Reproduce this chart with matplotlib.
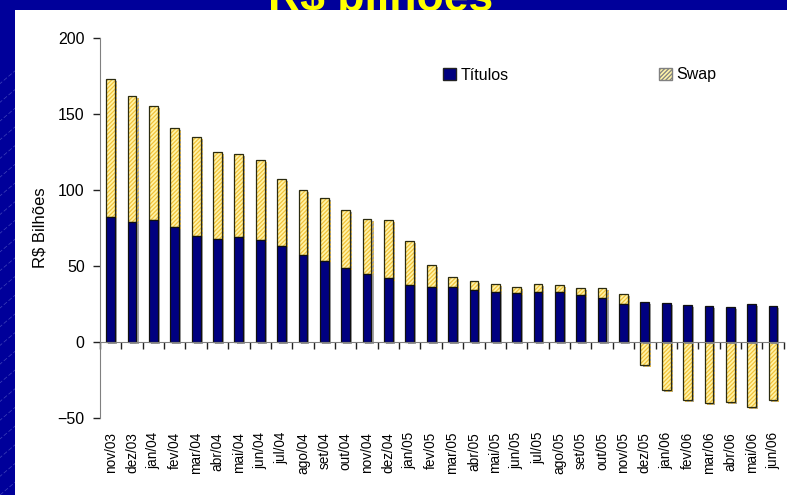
import numpy as np
import matplotlib
matplotlib.use("Agg")
import matplotlib.pyplot as plt
from matplotlib.patches import Rectangle, Patch
from matplotlib.lines import Line2D
import matplotlib.patheffects as pe

plt.rcParams['font.family'] = ['Liberation Sans', 'DejaVu Sans']
plt.rcParams['hatch.linewidth'] = 0.9

categories = ["nov/03", "dez/03", "jan/04", "fev/04", "mar/04", "abr/04", "mai/04", "jun/04",
              "jul/04", "ago/04", "set/04", "out/04", "nov/04", "dez/04", "jan/05", "fev/05",
              "mar/05", "abr/05", "mai/05", "jun/05", "jul/05", "ago/05", "set/05", "out/05",
              "nov/05", "dez/05", "jan/06", "fev/06", "mar/06", "abr/06", "mai/06", "jun/06"]
titulos = [82, 78.7, 80, 75.5, 70, 68, 69.3, 67.3, 63.4, 57.5, 53.5, 49, 45, 41.8, 37.3, 36,
           36.4, 34.2, 32.9, 32.2, 32.9, 32.9, 30.9, 28.7, 24.8, 26.3, 25.4, 24.1, 23.5, 22.8, 24.8, 23.5]
swap = [91, 83.3, 75, 65.5, 64.7, 57, 54.7, 52.7, 43.6, 42.3, 41, 38, 36, 38.2, 29.3, 14.7,
        6.1, 5.7, 5.0, 4.2, 5.0, 4.4, 4.4, 6.6, 6.6, -15.4, -31.4, -38, -39.9, -39.3, -42.5, -38]
yticks = [-50, 0, 50, 100, 150, 200]

W, H = 787, 495
fig = plt.figure(figsize=(W / 100, H / 100), dpi=100)
fig.patch.set_facecolor('#00009A')

# diagonal light lines in background
for k in range(-40, 60):
    x0 = k * 22.0
    fig.add_artist(Line2D([x0 / W, (x0 + 500) / W], [0, 500 * 0.85 / H],
                          transform=fig.transFigure, color='#8088D8', lw=0.5,
                          alpha=0.5, dashes=(6, 3), zorder=0))

# title (partly hidden by white panel)
fig.text(381 / W, 1 - 11 / H, 'R$ bilhões', ha='center', va='baseline', fontsize=32,
         fontweight='bold', color='#FFFF00', zorder=1)
# white panel
fig.add_artist(Rectangle((15 / W, 0), 1, 1 - 10 / H, transform=fig.transFigure,
                         facecolor='white', edgecolor='none', zorder=2))

ax = fig.add_axes([100 / W, 1 - 418 / H, 683.7 / W, 380 / H], zorder=3)
ax.set_facecolor('none')

x = np.arange(len(categories))
t = np.array(titulos)
s = np.array(swap)
sbottom = np.where(s > 0, t, 0)
w = 0.41
shadow = [pe.SimplePatchShadow(offset=(1.5, -1.5), shadow_rgbFace='#9A9A9A', alpha=0.9), pe.Normal()]

ax.bar(x, s, w, bottom=sbottom, facecolor='#FFF4A8', edgecolor='#F2C23A', hatch='////////',
       linewidth=0, zorder=2, path_effects=shadow)
ax.bar(x, s, w, bottom=sbottom, fill=False, edgecolor='#2B2B10', linewidth=0.9, zorder=3)
ax.bar(x, t, w, facecolor='#000080', edgecolor='#101010', linewidth=0.9, zorder=4,
       path_effects=shadow)

ax.set_xlim(-0.5, len(categories) - 0.5)
ax.set_ylim(-50, 200)
ax.set_yticks(yticks)
ax.tick_params(axis='y', direction='out', length=5, width=1, pad=6, labelsize=11.5,
               color='#222222')
ax.set_ylabel('R$ Bilhões', fontsize=12)
ax.yaxis.set_label_coords(-53 / 683.7, 0.5)

for sp in ['top', 'right']:
    ax.spines[sp].set_visible(False)
ax.spines['left'].set_color('#808080')
ax.spines['bottom'].set_color('#808080')
ax.spines['bottom'].set_position(('data', 0))
ax.spines['bottom'].set_zorder(5)
ax.set_xticks(np.arange(len(categories) + 1) - 0.5)
ax.tick_params(axis='x', direction='out', length=5, width=1, color='#222222',
               labelbottom=False)

sec = ax.secondary_xaxis('bottom')
sec.set_xticks(x)
sec.set_xticklabels(categories, rotation=90, fontsize=9.8)
sec.tick_params(axis='x', length=0, pad=10)
sec.spines['bottom'].set_visible(False)

handles = [Patch(facecolor='#000080', edgecolor='#222222', label='Títulos'),
           Patch(facecolor='#FFF4A8', edgecolor='#808080', hatch='////////', label='Swap')]
fig.legend(handles=handles, loc='center left', bbox_to_anchor=(443 / W, 1 - 75 / H),
           ncol=2, frameon=False, fontsize=11.5, handlelength=0.8, handleheight=0.8,
           handletextpad=0.3, columnspacing=9.4, borderpad=0, borderaxespad=0)

fig.savefig('out.png', dpi=100)
